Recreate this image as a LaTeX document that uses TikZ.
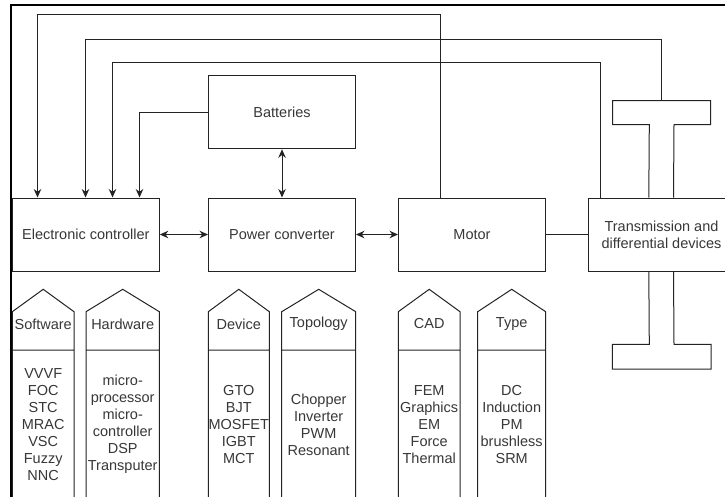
\documentclass[tikz,border=0pt]{standalone}
\usepackage{fontspec}
\setmainfont{Liberation Sans}
\usepackage{xcolor}
\definecolor{lineGrey}{RGB}{35,35,35}
\definecolor{textGrey}{RGB}{55,55,55}
\usetikzlibrary{positioning,arrows.meta,calc}

\begin{document}
\begin{tikzpicture}[x=1pt, y=-1pt,
  box/.style={draw=lineGrey, line width=1pt, minimum width=147pt, minimum height=73pt,
              inner sep=0pt, font=\fontsize{14.5}{17}\selectfont, text=textGrey, align=center},
  lab/.style={font=\fontsize{14.5}{17}\selectfont, text=textGrey, align=center, inner sep=0pt},
  arr/.style={-{Stealth[length=8.5pt,width=7.5pt]}, line width=1pt, draw=lineGrey},
  both/.style={{Stealth[length=8.5pt,width=7.5pt]}-{Stealth[length=8.5pt,width=7.5pt]}, line width=1pt, draw=lineGrey},
  wire/.style={line width=1pt, draw=lineGrey}
]
\useasboundingbox (0,0) rectangle (725,496);
\clip (0,0) rectangle (725,496);

%% frame
\draw[line width=2pt, black] (11,499) -- (11,5) -- (727,5);

%% main blocks
\node[box] (ctrl)  at (85.8,234.5)  {Electronic controller};
\node[box] (pc)    at (282,234.5)   {Power converter};
\node[box] (motor) at (472,234.5)   {Motor};
\node[box] (trans) at (661.5,234.5) {Transmission and\\differential devices};
\node[box] (bat)   at (282,112.3)   {Batteries};
\draw[both] (ctrl) -- (pc);
\draw[both] (pc) -- (motor);
\draw[both] (bat) -- (pc);
\draw[wire] (motor) -- (trans);

%% wheels
\coordinate (flangeTop) at (661.7,100.7);
\draw[wire] ($(trans.north west)+(61.3,0)$) -- (649.3,124.7) -- (612.7,124.7) -- (612.7,100.7)
  -- (710.7,100.7) -- (710.7,124.7) -- (674,124.7) -- ($(trans.north west)+(86,0)$);
\draw[wire] ($(trans.south west)+(61.3,0)$) -- (649.3,344.3) -- (612.3,344.3) -- (612.3,369)
  -- (711,369) -- (711,344.3) -- (674,344.3) -- ($(trans.south west)+(86,0)$);

%% feedback lines
\draw[arr] ($(motor.north west)+(42.5,0)$) -- ++(0,-183) -| ($(ctrl.north west)+(25.7,0)$);
\draw[arr] (flangeTop) -- ++(0,-61.4) -| ($(ctrl.north west)+(73.7,0)$);
\draw[arr] ($(trans.north west)+(12.7,0)$) -- ++(0,-134.7) -| ($(ctrl.north west)+(100.7,0)$);
\draw[arr] (bat.west) -| ($(ctrl.north west)+(127.7,0)$);

%% controller columns
\draw[wire] (12.3,499) -- (12.3,311.7) -- (43.2,289.3) -- (74,311.7) -- (74,499) (12.3,350) -- (74,350);
\node[lab] (swHead) at (43.2,324) {Software};
\node[lab] (swList) at (43.2,424.5) {VVVF\\FOC\\STC\\MRAC\\VSC\\Fuzzy\\NNC};
\draw[wire] (86,499) -- (86,311.7) -- (122.7,289.3) -- (159.3,311.7) -- (159.3,499) (86,350) -- (159.3,350);
\node[lab] (hwHead) at (122.7,324) {Hardware};
\node[lab] (hwList) at (122.7,424.5) {micro-\\processor\\micro-\\controller\\DSP\\Transputer};

%% converter columns
\draw[wire] (208.3,499) -- (208.3,311.7) -- (238.8,289.3) -- (269.3,311.7) -- (269.3,499) (208.3,350) -- (269.3,350);
\node[lab] (devHead) at (238.8,324) {Device};
\node[lab] (devList) at (238.8,424.5) {GTO\\BJT\\MOSFET\\IGBT\\MCT};
\draw[wire] (281.7,499) -- (281.7,311.7) -- (318.7,289.3) -- (355.7,311.7) -- (355.7,499) (281.7,350) -- (355.7,350);
\node[lab] (topHead) at (318.7,324) {Topology};
\node[lab] (topList) at (318.7,424.5) {Chopper\\Inverter\\PWM\\Resonant};

%% motor columns
\draw[wire] (398.3,499) -- (398.3,311.7) -- (429.2,289.3) -- (460,311.7) -- (460,499) (398.3,350) -- (460,350);
\node[lab] (cadHead) at (429.2,324) {CAD};
\node[lab] (cadList) at (429.2,424.5) {FEM\\Graphics\\EM\\Force\\Thermal};
\draw[wire] (477.7,499) -- (477.7,311.7) -- (511.7,289.3) -- (545.7,311.7) -- (545.7,499) (477.7,350) -- (545.7,350);
\node[lab] (typeHead) at (511.7,324) {Type};
\node[lab] (typeList) at (511.7,424.5) {DC\\Induction\\PM\\brushless\\SRM};
\end{tikzpicture}
\end{document}
